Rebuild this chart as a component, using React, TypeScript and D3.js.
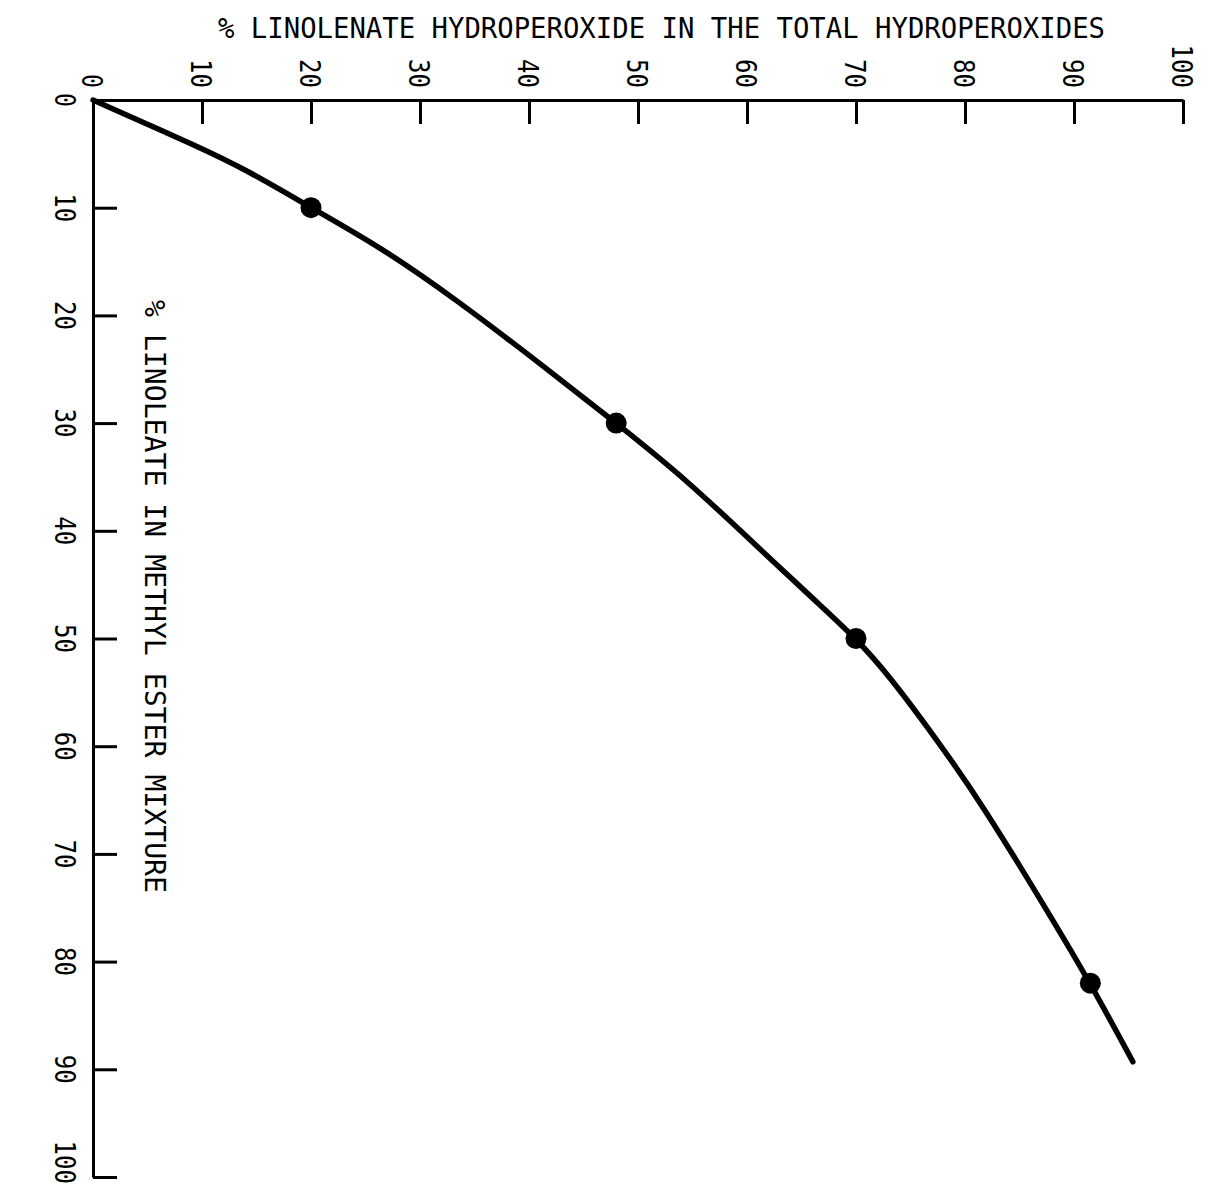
import React, { useEffect, useRef } from "react";
import * as d3 from "d3";

// % linoleate in methyl ester mixture (left axis, downwards)
// vs % linolenate hydroperoxide in the total hydroperoxides (top axis, rightwards)
const measuredLinoleate = [10, 30, 50, 82];
const measuredHydroperoxide = [20, 48, 70, 91.5];

const curveLinoleate = [0, 4.4, 6.5, 10, 13.6, 18.5, 25, 30, 35.2, 42, 46.9, 50, 53.4, 59.1, 65.1, 75.7, 82, 89.3];
const curveHydroperoxide = [0, 9.8, 14.1, 20, 26.3, 33.3, 41.7, 48, 54.4, 61.5, 66.7, 70, 73, 77.2, 81.4, 87.8, 91.5, 95.4];

const tickValues = [0, 10, 20, 30, 40, 50, 60, 70, 80, 90, 100];

const topTitle = "% LINOLENATE HYDROPEROXIDE IN THE TOTAL HYDROPEROXIDES";
const leftTitle = "% LINOLEATE IN METHYL ESTER MIXTURE";

const W = 1208;
const H = 1192;

export default function App() {
  const ref = useRef<SVGSVGElement | null>(null);

  useEffect(() => {
    const svg = d3.select(ref.current);
    svg.selectAll("*").remove();

    const font = "'DejaVu Sans Mono', 'Liberation Mono', monospace";
    const labelLen = (d: number) => (String(d).length === 1 ? 14 : String(d).length * 14.5);

    // x runs along the top axis, y runs down the left axis
    const x = d3.scaleLinear().domain([0, 100]).range([93, 1183]);
    const y = d3.scaleLinear().domain([0, 100]).range([100, 1177]);

    // top axis, ticks pointing down
    const topAxis = svg
      .append("g")
      .attr("transform", `translate(0,${y(0)})`)
      .call(d3.axisBottom(x).tickValues(tickValues).tickSize(24).tickSizeOuter(0).tickFormat(() => ""));
    topAxis.select(".domain").attr("stroke", "#000").attr("stroke-width", 3);
    topAxis.selectAll(".tick line").attr("stroke", "#000").attr("stroke-width", 3);
    topAxis.selectAll(".tick").filter((d: any) => d === 0).select("line").remove();

    // left axis, ticks pointing right
    const leftAxis = svg
      .append("g")
      .attr("transform", `translate(${x(0)},0)`)
      .call(d3.axisRight(y).tickValues(tickValues).tickSize(24).tickSizeOuter(0).tickFormat(() => ""));
    leftAxis.select(".domain").attr("stroke", "#000").attr("stroke-width", 3);
    leftAxis.selectAll(".tick line").attr("stroke", "#000").attr("stroke-width", 3);
    leftAxis.selectAll(".tick").filter((d: any) => d === 0).select("line").remove();

    // top tick labels, rotated to read downwards
    svg
      .append("g")
      .selectAll("text")
      .data(tickValues)
      .join("text")
      .attr("transform", (d) => `translate(${x(d) - 11},88) rotate(90)`)
      .attr("text-anchor", "end")
      .attr("font-family", font)
      .attr("font-size", 29)
      .attr("textLength", labelLen)
      .attr("lengthAdjust", "spacingAndGlyphs")
      .text((d) => d);

    // left tick labels, rotated to read downwards (last one kept inside the page)
    svg
      .append("g")
      .selectAll("text")
      .data(tickValues)
      .join("text")
      .attr("transform", (d) => (d === 100 ? `translate(55,1184) rotate(90)` : `translate(55,${y(d)}) rotate(90)`))
      .attr("text-anchor", (d) => (d === 100 ? "end" : "middle"))
      .attr("font-family", font)
      .attr("font-size", 28)
      .attr("textLength", labelLen)
      .attr("lengthAdjust", "spacingAndGlyphs")
      .text((d) => d);

    // axis titles
    svg
      .append("text")
      .attr("x", 218)
      .attr("y", 38)
      .attr("font-family", font)
      .attr("font-size", 29)
      .attr("textLength", 887)
      .attr("lengthAdjust", "spacingAndGlyphs")
      .text(topTitle);

    svg
      .append("text")
      .attr("transform", `translate(145,300) rotate(90)`)
      .attr("font-family", font)
      .attr("font-size", 29)
      .attr("textLength", 593)
      .attr("lengthAdjust", "spacingAndGlyphs")
      .text(leftTitle);

    // fitted curve (smoothed through the traced points)
    const curvePts = curveLinoleate.map((v, i) => [curveHydroperoxide[i], v] as [number, number]);
    const line = d3
      .line<[number, number]>()
      .x((d) => x(d[0]))
      .y((d) => y(d[1]))
      .curve(d3.curveBasis);
    svg
      .append("path")
      .attr("d", line(curvePts))
      .attr("fill", "none")
      .attr("stroke", "#000")
      .attr("stroke-width", 5.5)
      .attr("stroke-linecap", "round");

    // measured points
    svg
      .append("g")
      .selectAll("circle")
      .data(measuredLinoleate.map((v, i) => [measuredHydroperoxide[i], v]))
      .join("circle")
      .attr("cx", (d) => x(d[0]))
      .attr("cy", (d) => y(d[1]))
      .attr("r", 10.5)
      .attr("fill", "#000");
  }, []);

  return (
    <svg
      ref={ref}
      width={W}
      height={H}
      style={{ position: "absolute", left: 0, top: 0, background: "#fff" }}
    />
  );
}
